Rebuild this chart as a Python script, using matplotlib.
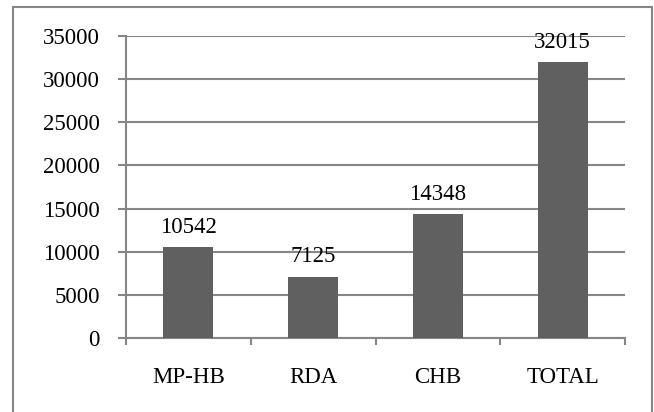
import numpy as np
import matplotlib.pyplot as plt
from matplotlib.patches import Rectangle

categories = ["MP-HB", "RDA", "CHB", "TOTAL"]
values = [10542, 7125, 14348, 32015]

plt.rcParams['font.family'] = ['Liberation Serif', 'DejaVu Serif']

W, H = 654, 412
fig = plt.figure(figsize=(W / 100, H / 100), dpi=100)

# plot area in pixels: x 126..625, y 36..338
ax = fig.add_axes([126 / W, 1 - 338 / H, (625 - 126) / W, (338 - 36) / H])

grid_col = "#868686"
bar_col = "#606060"

x = np.arange(len(categories))
ax.bar(x, values, width=0.4, color=bar_col, zorder=3)

for xi, v in zip(x, values):
    ax.annotate(str(v), (xi, v), xytext=(0, 6.5), textcoords="offset points",
                ha="center", va="bottom", fontsize=16.5, zorder=4)

ax.set_xlim(-0.5, len(categories) - 0.5)
ax.set_ylim(0, 35000)
ax.set_yticks(np.arange(0, 35001, 5000))
ax.yaxis.grid(True, color=grid_col, linewidth=1.5, zorder=0)
ax.set_axisbelow(True)

# category labels at centres, tick marks at boundaries
ax.set_xticks(x)
ax.set_xticklabels(categories, fontsize=16.5)
ax.tick_params(axis="x", length=0, pad=21)
ax.set_xticks(np.arange(-0.5, len(categories)), minor=True)
ax.tick_params(axis="x", which="minor", length=5, width=1.5, color=grid_col)
ax.tick_params(axis="y", length=6, width=1.5, color=grid_col, labelsize=16.5, pad=13)

for s in ["top", "right"]:
    ax.spines[s].set_visible(False)
for s in ["left", "bottom"]:
    ax.spines[s].set_color(grid_col)
    ax.spines[s].set_linewidth(1.5)

# outer chart border
fig.patches.append(Rectangle((13 / W, -0.01), (652 - 13) / W, (412 - 7) / H + 0.01,
                             transform=fig.transFigure, fill=False,
                             edgecolor=grid_col, linewidth=1.5))

fig.savefig("out.png", dpi=100)
